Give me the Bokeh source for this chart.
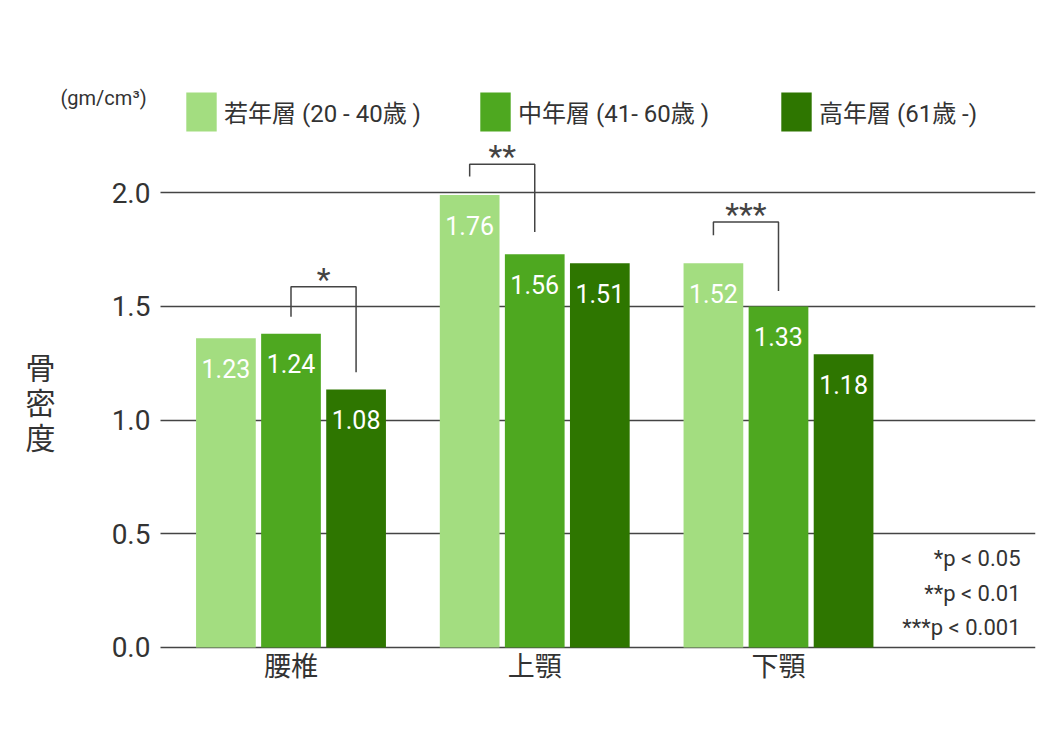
from bokeh.plotting import figure
from bokeh.models import Range1d, FixedTicker, Legend, LegendItem, Label, ColumnDataSource
from bokeh.core.properties import value
from bokeh.embed import file_html
from bokeh.resources import INLINE

# ---------------- data ----------------
sites = ["腰椎", "上顎", "下顎"]
groups = ["若年層 (20 - 40歳 )", "中年層 (41- 60歳 )", "高年層 (61歳 -)"]
# bar heights as drawn against the axis
young = [1.36, 1.99, 1.69]
middle = [1.38, 1.73, 1.50]
old = [1.135, 1.69, 1.29]
# values printed on the bars
young_lbl = ["1.23", "1.76", "1.52"]
middle_lbl = ["1.24", "1.56", "1.33"]
old_lbl = ["1.08", "1.51", "1.18"]
yticks = [0.0, 0.5, 1.0, 1.5, 2.0]
unit = "(gm/cm³)"
ytitle = ["骨", "密", "度"]
# significance brackets: which bars (series index), marks
sig_pairs = [(1, 2), (0, 1), (0, 1)]
sig_marks = ["*", "**", "***"]
sig_top = [1.587, 2.126, 1.872]
sig_left_bottom = [1.455, 2.072, 1.813]
sig_right_bottom = [1.211, 1.828, 1.568]
footnotes = ["*p < 0.05", "**p < 0.01", "***p < 0.001"]

colors = ["#A3DD80", "#4EA820", "#2E7600"]
TXT = "#333333"
LINE = "#444444"
LATIN = "Roboto"
MIXED = "Roboto, 'Noto Sans CJK JP'"
CJK = "Noto Sans CJK JP"

offsets = [-0.267, 0.0, 0.267]
bar_w = 0.245
X0, X1 = -1.1918, 3.0544      # visible x extent (group units)
AXIS_X = -0.5354              # where the value axis sits
Y0, Y1 = -0.2512, 2.846       # visible y extent

p = figure(width=1044, height=724, x_range=Range1d(X0, X1),
           y_range=Range1d(Y0, Y1), output_backend="svg",
           toolbar_location=None, min_border_left=0, min_border_right=9,
           min_border_top=0, min_border_bottom=20)
p.outline_line_color = None
p.background_fill_color = "white"
p.border_fill_color = "white"

# value axis, drawn inside the frame
p.yaxis.fixed_location = AXIS_X
p.yaxis.ticker = FixedTicker(ticks=yticks)
p.yaxis.major_label_overrides = {t: f"{t:.1f}" for t in yticks}
p.yaxis.axis_line_color = None
p.yaxis.major_tick_line_color = None
p.yaxis.major_tick_out = 0
p.yaxis.major_tick_in = 0
p.yaxis.minor_tick_line_color = None
p.yaxis.major_label_standoff = 10
p.yaxis.major_label_text_font = LATIN
p.yaxis.major_label_text_font_size = "28px"
p.yaxis.major_label_text_color = TXT

# category axis at y = 0
p.xaxis.fixed_location = 0
p.xaxis.ticker = FixedTicker(ticks=list(range(len(sites))))
p.xaxis.major_label_overrides = {i: s for i, s in enumerate(sites)}
p.xaxis.axis_line_color = None
p.xaxis.major_tick_line_color = None
p.xaxis.major_tick_out = 0
p.xaxis.major_tick_in = 0
p.xaxis.minor_tick_line_color = None
p.xaxis.major_label_standoff = -2
p.xaxis.major_label_text_font = CJK
p.xaxis.major_label_text_font_size = "27px"
p.xaxis.major_label_text_color = TXT

p.xgrid.grid_line_color = None
p.ygrid.ticker = FixedTicker(ticks=yticks)
p.ygrid.cross_bounds = (AXIS_X, X1)
p.ygrid.grid_line_color = LINE
p.ygrid.grid_line_width = 1.4

series = [young, middle, old]
labels = [young_lbl, middle_lbl, old_lbl]
renderers = []
for k in range(3):
    src = ColumnDataSource(dict(
        x=[i + offsets[k] for i in range(len(sites))],
        top=series[k],
        lbl=labels[k],
    ))
    r = p.vbar(x="x", top="top", bottom=0, width=bar_w, source=src,
               fill_color=colors[k], line_color=None)
    renderers.append(r)
    p.text(x="x", y="top", text="lbl", source=src, y_offset=30,
           text_align="center", text_baseline="middle", text_color="white",
           text_font=value(LATIN), text_font_size="25px")

# significance brackets
bxs, bys, sx, sy = [], [], [], []
for i, (a, b) in enumerate(sig_pairs):
    xl = i + offsets[a]
    xr = i + offsets[b]
    bxs.append([xl, xl, xr, xr])
    bys.append([sig_left_bottom[i], sig_top[i], sig_top[i], sig_right_bottom[i]])
    sx.append((xl + xr) / 2)
    sy.append(sig_top[i])
p.multi_line(xs=bxs, ys=bys, line_color=LINE, line_width=1.5)
p.text(x=sx, y=sy, text=sig_marks, y_offset=-8, text_align="center",
       text_baseline="alphabetic", text_color=LINE,
       text_font=value(LATIN), text_font_size="32px")

# legends (one per item, placed individually)
leg_x = [182, 476, 777]
for k in range(3):
    lg = Legend(items=[LegendItem(label=groups[k], renderers=[renderers[k]])],
                location=(leg_x[k], 568), orientation="horizontal",
                glyph_width=38, glyph_height=49, label_standoff=4,
                padding=0, margin=0, border_line_color=None,
                background_fill_alpha=0, label_text_font=MIXED,
                label_text_font_size="24px", label_text_color=TXT,
                label_text_baseline="middle")
    p.add_layout(lg, "center")

# footnotes (screen offsets from the frame's bottom-left)
fy = [146, 111, 77]
for t, y in zip(footnotes, fy):
    p.add_layout(Label(x=1020, y=y, x_units="screen", y_units="screen", text=t,
                       text_align="right", text_baseline="middle",
                       text_font=LATIN, text_font_size="22px", text_color=TXT))

# unit and vertical title
p.add_layout(Label(x=60, y=607, x_units="screen", y_units="screen", text=unit,
                   text_align="left", text_baseline="middle",
                   text_font=LATIN, text_font_size="20px", text_color=TXT))
for ch, y in zip(ytitle, [339, 304, 269]):
    p.add_layout(Label(x=40, y=y, x_units="screen", y_units="screen", text=ch,
                       text_align="center", text_baseline="middle",
                       text_font=CJK, text_font_size="30px", text_color=TXT))

open("out.html", "w").write(file_html(p, INLINE))
